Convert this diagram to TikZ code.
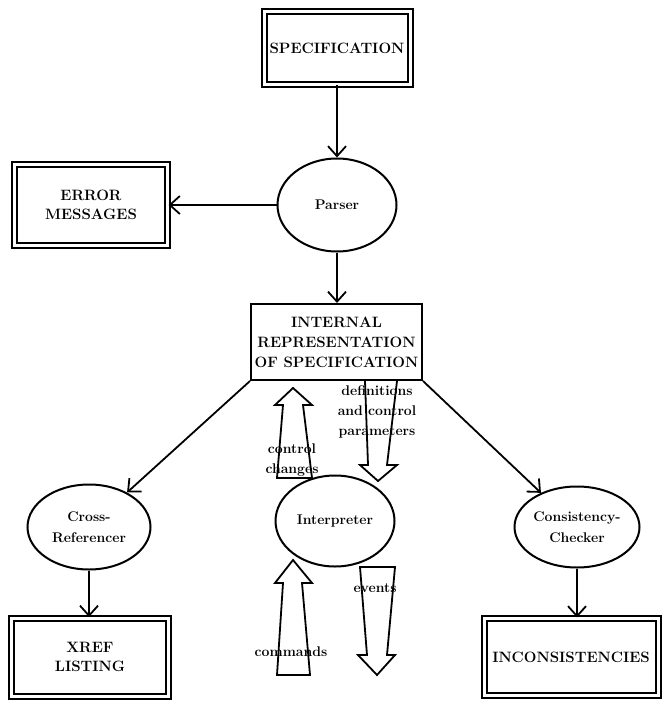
\documentclass[tikz,border=0pt]{standalone}
\usepackage{tikz}
\usetikzlibrary{arrows.meta, positioning, shapes.geometric}

\tikzset{
  outbox/.style={draw, line width=2pt, double, double distance=3pt, inner sep=0pt,
    align=center, font=\fontsize{15}{19}\selectfont\bfseries},
  repbox/.style={draw, line width=2pt, inner sep=0pt, align=center,
    font=\fontsize{15}{20}\selectfont\bfseries},
  proc/.style={ellipse, draw, line width=2pt, inner sep=0pt, align=center,
    font=\fontsize{14}{21}\selectfont\bfseries},
  flow/.style={line width=1.8pt, -{Straight Barb[length=10pt,width=18pt,line width=1.8pt]}},
  bigarrow/.style={line width=1.8pt, line join=miter},
  tag/.style={inner sep=0pt, align=center, font=\fontsize{14}{20}\selectfont\bfseries}
}

\begin{document}
\begin{tikzpicture}[x=1pt, y=-1pt]
  \useasboundingbox (0,0) rectangle (671,719);

  % boxes
  \node[outbox, minimum width=146pt, minimum height=73pt] (spec) at (337,48) {SPECIFICATION};
  \node[outbox, minimum width=153pt, minimum height=81pt] (errs) at (91,205) {ERROR\\MESSAGES};
  \node[repbox, minimum width=171pt, minimum height=76pt] (intern) at (336.5,342)
    {INTERNAL\\REPRESENTATION\\OF SPECIFICATION};
  \node[outbox, minimum width=157pt, minimum height=78pt] (xref) at (90,657) {XREF\\LISTING};
  \node[outbox, minimum width=174pt, minimum height=77pt] (incon) at (571,657) {INCONSISTENCIES};

  % processes
  \node[proc, minimum width=119pt, minimum height=93pt] (parser) at (337,205) {Parser};
  \node[proc, minimum width=123pt, minimum height=85pt] (cross) at (89,527) {Cross-\\Referencer};
  \node[proc, minimum width=119pt, minimum height=91pt] (interp) at (335,521) {Interpreter};
  \node[proc, minimum width=125pt, minimum height=81pt] (check) at (577,527) {Consistency-\\Checker};

  % connectors
  \draw[flow] (spec.south) -- (parser.north);
  \draw[flow] (parser.west) -- (errs.east);
  \draw[flow] (parser.south) -- (parser.south |- intern.north);
  \draw[flow] (intern.south west) -- (cross);
  \draw[flow] (intern.south east) -- (check);
  \draw[flow] (cross.south) -- (cross.south |- xref.north);
  \draw[flow] (check.south) -- (check.south |- incon.north);

  % wide arrows to and from the interpreter
  \draw[bigarrow] (277,478) -- (283,405) -- (275,405) -- (293,388) -- (312,405)
    -- (303,405) -- (312,478) -- cycle;
  \draw[bigarrow] (365,381) -- (368,465) -- (360,465) -- (378,481) -- (397,465)
    -- (387,465) -- (397,381);
  \draw[bigarrow] (277,675) -- (283,583) -- (275,583) -- (293,560) -- (312,583)
    -- (302,583) -- (310,675) -- cycle;
  \draw[bigarrow] (360,567) -- (367,655) -- (358,655) -- (377,675) -- (395,655)
    -- (387,655) -- (395,567) -- cycle;

  \node[tag] (ctrl) at (292,460) {control\\changes};
  \node[tag] (defs) at (377,412) {definitions\\and control\\parameters};
  \node[tag] (evts) at (375,588) {events};
  \node[tag] (cmds) at (291,652) {commands};
\end{tikzpicture}
\end{document}
